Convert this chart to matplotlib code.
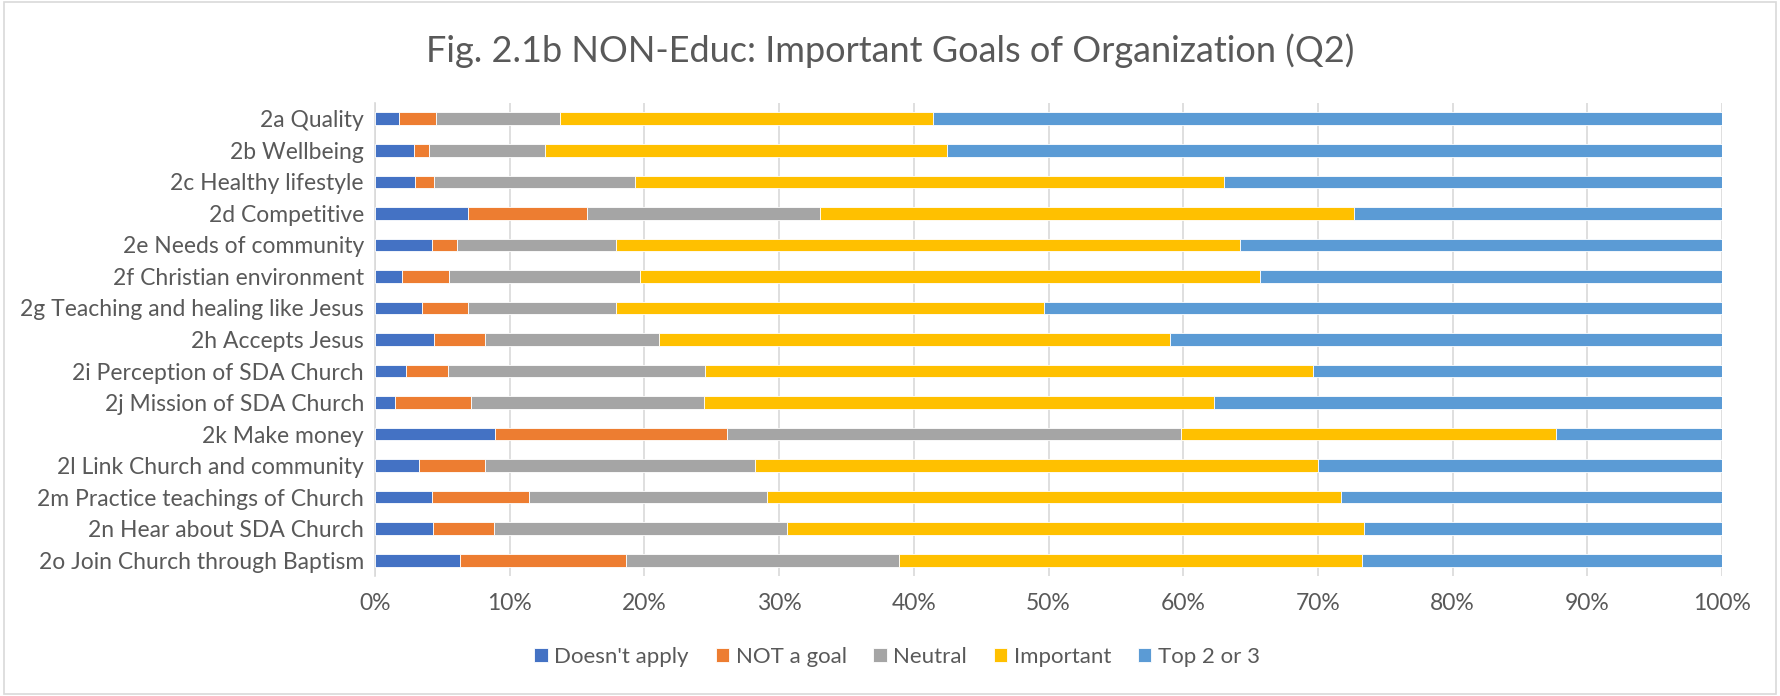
import matplotlib.pyplot as plt
from matplotlib.patches import Rectangle
import numpy as np

plt.rcParams['font.family'] = ['Lato', 'DejaVu Sans']

goals = ["2a Quality", "2b Wellbeing", "2c Healthy lifestyle", "2d Competitive",
         "2e Needs of community", "2f Christian environment",
         "2g Teaching and healing like Jesus", "2h Accepts Jesus",
         "2i Perception of SDA Church", "2j Mission of SDA Church", "2k Make money",
         "2l Link Church and community", "2m Practice teachings of Church",
         "2n Hear about SDA Church", "2o Join Church through Baptism"]

# percent of respondents per answer
doesnt_apply = [1.8, 2.9, 3.0, 6.9, 4.2, 2.0, 3.5, 4.4, 2.3, 1.5, 8.9, 3.3, 4.2, 4.3, 6.3]
not_a_goal   = [2.7, 1.1, 1.4, 8.8, 1.9, 3.5, 3.4, 3.8, 3.1, 5.6, 17.2, 4.9, 7.2, 4.5, 12.3]
neutral      = [9.2, 8.6, 14.9, 17.3, 11.8, 14.2, 11.0, 12.9, 19.1, 17.3, 33.7, 20.0, 17.7, 21.8, 20.3]
important    = [27.7, 29.9, 43.7, 39.7, 46.3, 46.0, 31.8, 37.9, 45.1, 37.9, 27.9, 41.8, 42.6, 42.8, 34.4]
top_2_or_3   = [58.6, 57.5, 37.0, 27.3, 35.8, 34.3, 50.3, 41.0, 30.4, 37.7, 12.3, 30.0, 28.3, 26.6, 26.7]

series = [("Doesn't apply", doesnt_apply, '#4472C4'),
          ("NOT a goal", not_a_goal, '#ED7D31'),
          ("Neutral", neutral, '#A5A5A5'),
          ("Important", important, '#FFC000'),
          ("Top 2 or 3", top_2_or_3, '#5B9BD5')]

fig = plt.figure(figsize=(17.8, 6.96), dpi=100)
ax = fig.add_axes([0.2107, 0.1724, 0.7567, 0.6796])

y = np.arange(len(goals))
left = np.zeros(len(goals))
for name, vals, col in series:
    v = np.array(vals) / 100
    ax.barh(y, v, left=left, height=0.4, color=col, edgecolor='white',
            linewidth=0.6, label=name, zorder=3)
    left += v

ax.set_xlim(0, 1)
ax.set_ylim(len(goals) - 0.5, -0.5)
ax.set_xticks(np.arange(0, 1.01, 0.1))
ax.set_xticklabels([f"{int(round(t*100))}%" for t in np.arange(0, 1.01, 0.1)])
ax.set_yticks(y)
ax.set_yticklabels(goals)
ax.tick_params(axis='both', length=0, labelsize=16.5, colors='#595959')
ax.tick_params(axis='x', pad=12)
ax.tick_params(axis='y', pad=8)
ax.xaxis.grid(True, color='#D9D9D9', linewidth=1.2, zorder=0)
for s in ['top', 'right', 'bottom']:
    ax.spines[s].set_visible(False)
ax.spines['left'].set_color('#D9D9D9')
ax.spines['left'].set_linewidth(1.2)

fig.text(0.5, 0.927, "Fig. 2.1b NON-Educ: Important Goals of Organization (Q2)",
         ha='center', va='center', fontsize=26, color='#595959')

fig.legend(loc='center', bbox_to_anchor=(0.504, 0.056), ncol=5, frameon=False,
           fontsize=16, handlelength=0.6, handleheight=0.6, columnspacing=1.2,
           handletextpad=0.3, labelcolor='#595959')

fig.patches.append(Rectangle((0.002, 0.003), 0.996, 0.994, transform=fig.transFigure,
                             fill=False, edgecolor='#D9D9D9', linewidth=1.2))

fig.savefig('out.png', dpi=100, facecolor='white')
